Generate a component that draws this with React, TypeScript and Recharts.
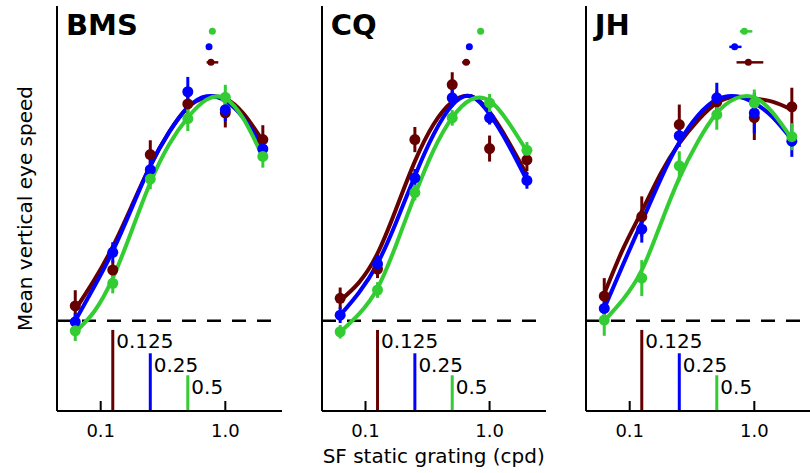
import React from 'react';
import { ComposedChart, Line, Scatter, XAxis, YAxis, ErrorBar, ReferenceLine } from 'recharts';

// ---------- shared axes / categories ----------
const SF_POINTS = [0.0625, 0.125, 0.25, 0.5, 1, 2];
const SF_CURVE = [0.0625, 0.0884, 0.125, 0.177, 0.25, 0.354, 0.5, 0.707, 1, 1.414, 2];
const X_TICKS = [0.1, 1];
const X_TICK_LABELS = ['0.1', '1.0'];
const X_DOMAIN = [0.0446, 2.85];
const Y_DOMAIN = [-0.402, 1.402];
const CONDITION_LABELS = ['0.125', '0.25', '0.5'];
const CONDITION_SF = [0.125, 0.25, 0.5];
const CONDITION_TOP = [-0.041, -0.145, -0.243];
const PEAK_ROW = [1.151, 1.22, 1.289];
const COLORS = ['#660000', '#0000ff', '#33cc33'];

// ---------- BMS ----------
const BMS_MAROON = [0.066, 0.226, 0.74, 0.966, 0.926, 0.807];
const BMS_MAROON_ERR = [0.07, 0.04, 0.064, 0.05, 0.065, 0.064];
const BMS_BLUE = [-0.005, 0.305, 0.673, 1.02, 0.94, 0.765];
const BMS_BLUE_ERR = [0.04, 0.045, 0.05, 0.066, 0.05, 0.05];
const BMS_GREEN = [-0.045, 0.167, 0.631, 0.9, 0.995, 0.732];
const BMS_GREEN_ERR = [0.045, 0.045, 0.045, 0.055, 0.056, 0.05];
const BMS_MAROON_FIT = [0.05, 0.18, 0.33, 0.51, 0.69, 0.84, 0.95, 0.995, 0.99, 0.92, 0.8];
const BMS_BLUE_FIT = [0.0, 0.15, 0.31, 0.5, 0.69, 0.84, 0.95, 1.0, 0.98, 0.9, 0.77];
const BMS_GREEN_FIT = [-0.05, 0.04, 0.19, 0.4, 0.615, 0.785, 0.905, 0.985, 0.99, 0.895, 0.73];
const BMS_PEAK = [0.767, 0.74, 0.787];
const BMS_PEAK_ERR = [[0.059, 0.111], [0.035, 0.035], [0.04, 0.04]];

// ---------- CQ ----------
const CQ_MAROON = [0.1, 0.23, 0.807, 1.052, 0.767, 0.717];
const CQ_MAROON_ERR = [0.048, 0.04, 0.056, 0.055, 0.058, 0.05];
const CQ_BLUE = [0.025, 0.253, 0.636, 0.993, 0.904, 0.625];
const CQ_BLUE_ERR = [0.035, 0.04, 0.04, 0.04, 0.03, 0.037];
const CQ_GREEN = [-0.049, 0.137, 0.571, 0.904, 0.97, 0.759];
const CQ_GREEN_ERR = [0.03, 0.035, 0.035, 0.035, 0.04, 0.037];
const CQ_MAROON_FIT = [0.09, 0.17, 0.3, 0.5, 0.71, 0.875, 0.975, 1.0, 0.93, 0.8, 0.65];
const CQ_BLUE_FIT = [0.025, 0.125, 0.255, 0.44, 0.645, 0.83, 0.96, 1.0, 0.92, 0.785, 0.625];
const CQ_GREEN_FIT = [-0.05, 0.03, 0.145, 0.34, 0.56, 0.76, 0.905, 0.985, 0.98, 0.885, 0.755];
const CQ_PEAK = [0.648, 0.687, 0.847];
const CQ_PEAK_ERR = [[0.047, 0.049], [0.015, 0.015], [0.015, 0.015]];

// ---------- JH ----------
const JH_MAROON = [0.11, 0.464, 0.874, 0.975, 0.905, 0.953];
const JH_MAROON_ERR = [0.08, 0.09, 0.089, 0.05, 0.1, 0.085];
const JH_BLUE = [0.055, 0.408, 0.824, 0.993, 0.925, 0.8];
const JH_BLUE_ERR = [0.04, 0.06, 0.05, 0.067, 0.09, 0.07];
const JH_GREEN = [0.003, 0.19, 0.69, 0.918, 0.97, 0.82];
const JH_GREEN_ERR = [0.07, 0.08, 0.065, 0.067, 0.06, 0.06];
const JH_MAROON_FIT = [0.12, 0.32, 0.487, 0.655, 0.79, 0.894, 0.97, 0.998, 0.99, 0.975, 0.94];
const JH_BLUE_FIT = [0.055, 0.25, 0.44, 0.63, 0.795, 0.915, 0.985, 1.0, 0.97, 0.905, 0.807];
const JH_GREEN_FIT = [0.0, 0.095, 0.225, 0.43, 0.635, 0.8, 0.925, 0.99, 0.995, 0.925, 0.81];
const JH_PEAK = [0.895, 0.695, 0.832];
const JH_PEAK_ERR = [[0.175, 0.285], [0.065, 0.095], [0.066, 0.132]];

const FONT = 'DejaVu Sans, Liberation Sans, sans-serif';

type Series = { color: string; pts: number[]; err: number[]; fit: number[]; peak: number; peakErr: number[]; row: number };

const mkSeries = (
  vals: number[][],
  errs: number[][],
  fits: number[][],
  peaks: number[],
  peakErrs: number[][]
): Series[] =>
  COLORS.map((color, i) => ({ color, pts: vals[i], err: errs[i], fit: fits[i], peak: peaks[i], peakErr: peakErrs[i], row: PEAK_ROW[i] }));

const PANELS = [
  {
    title: 'BMS',
    axisX: 57,
    plotW: 225,
    series: mkSeries(
      [BMS_MAROON, BMS_BLUE, BMS_GREEN],
      [BMS_MAROON_ERR, BMS_BLUE_ERR, BMS_GREEN_ERR],
      [BMS_MAROON_FIT, BMS_BLUE_FIT, BMS_GREEN_FIT],
      BMS_PEAK,
      BMS_PEAK_ERR
    ),
  },
  {
    title: 'CQ',
    axisX: 321.7,
    plotW: 224,
    series: mkSeries(
      [CQ_MAROON, CQ_BLUE, CQ_GREEN],
      [CQ_MAROON_ERR, CQ_BLUE_ERR, CQ_GREEN_ERR],
      [CQ_MAROON_FIT, CQ_BLUE_FIT, CQ_GREEN_FIT],
      CQ_PEAK,
      CQ_PEAK_ERR
    ),
  },
  {
    title: 'JH',
    axisX: 585.7,
    plotW: 225,
    series: mkSeries(
      [JH_MAROON, JH_BLUE, JH_GREEN],
      [JH_MAROON_ERR, JH_BLUE_ERR, JH_GREEN_ERR],
      [JH_MAROON_FIT, JH_BLUE_FIT, JH_GREEN_FIT],
      JH_PEAK,
      JH_PEAK_ERR
    ),
  },
];

const LEFT_PAD = 20;
const CHART_H = 473;

function Panel({ axisX, plotW, series }: { axisX: number; plotW: number; series: Series[] }) {
  const width = LEFT_PAD + plotW + 10;
  return (
    <div style={{ position: 'absolute', left: axisX - LEFT_PAD, top: 0 }}>
      <ComposedChart width={width} height={CHART_H} margin={{ top: 6, right: 10, bottom: 0, left: LEFT_PAD - 1 }}>
        <XAxis
          dataKey="x"
          type="number"
          scale="log"
          domain={X_DOMAIN}
          allowDataOverflow
          ticks={X_TICKS}
          tickFormatter={(v: number) => X_TICK_LABELS[X_TICKS.indexOf(v)] ?? String(v)}
          height={62}
          axisLine={{ stroke: '#000', strokeWidth: 2 }}
          tickLine={{ stroke: '#000', strokeWidth: 2 }}
          tickSize={-10}
          tickMargin={23}
          tick={{ fill: '#000', fontSize: 18, fontFamily: FONT }}
          interval={0}
        />
        <YAxis
          dataKey="y"
          type="number"
          domain={Y_DOMAIN}
          allowDataOverflow
          width={1}
          tick={false}
          tickLine={false}
          axisLine={{ stroke: '#000', strokeWidth: 2 }}
        />
        <ReferenceLine y={0} stroke="#000" strokeWidth={2.5} strokeDasharray="14 11" />
        {CONDITION_SF.map((sf, i) => (
          <ReferenceLine
            key={'c' + i}
            segment={[
              { x: sf, y: Y_DOMAIN[0] },
              { x: sf, y: CONDITION_TOP[i] },
            ]}
            stroke={COLORS[i]}
            strokeWidth={3}
            label={(p: any) => (
              <text
                x={p.viewBox.x + 3.5}
                y={p.viewBox.y + 18.3}
                fontSize={20}
                fontFamily={FONT}
                fill="#000"
              >
                {CONDITION_LABELS[i]}
              </text>
            )}
          />
        ))}
        {series.map((s, i) => (
          <Scatter
            key={'pk' + i}
            data={[{ x: s.peak, y: s.row, ex: s.peakErr }]}
            dataKey="y"
            fill={s.color}
            isAnimationActive={false}
            shape={(p: any) => <circle cx={p.cx} cy={p.cy} r={3.5} fill={s.color} />}
          >
            <ErrorBar dataKey="ex" direction="x" width={0} stroke={s.color} strokeWidth={2.5} />
          </Scatter>
        ))}
        {series.flatMap((s, i) => [
          <Scatter
            key={'pt' + i}
            data={SF_POINTS.map((x, j) => ({ x, y: s.pts[j], e: s.err[j] }))}
            dataKey="y"
            fill={s.color}
            isAnimationActive={false}
            shape={(p: any) => <circle cx={p.cx} cy={p.cy} r={5.5} fill={s.color} />}
          >
            <ErrorBar dataKey="e" direction="y" width={0} stroke={s.color} strokeWidth={3} />
          </Scatter>,
          <Line
            key={'fit' + i}
            data={SF_CURVE.map((x, j) => ({ x, y: s.fit[j] }))}
            dataKey="y"
            type="natural"
            stroke={s.color}
            strokeWidth={4}
            dot={false}
            activeDot={false}
            isAnimationActive={false}
          />,
        ])}
      </ComposedChart>
    </div>
  );
}

export default function App() {
  return (
    <div style={{ position: 'absolute', left: 0, top: 0, width: 810, height: 473, overflow: 'hidden', background: '#fff' }}>
      {PANELS.map((p) => (
        <Panel key={p.title} axisX={p.axisX} plotW={p.plotW} series={p.series} />
      ))}
      <svg width={810} height={473} style={{ position: 'absolute', left: 0, top: 0, pointerEvents: 'none' }}>
        {PANELS.map((p) => (
          <text key={p.title} x={p.axisX + 9} y={35} fontSize={29} fontWeight="bold" fontFamily={FONT} fill="#000">
            {p.title}
          </text>
        ))}
        <text x={433.7} y={462.7} fontSize={20} fontFamily={FONT} textAnchor="middle" fill="#000">
          SF static grating (cpd)
        </text>
        <text
          transform="translate(32,208.5) rotate(-90)"
          fontSize={20}
          fontFamily={FONT}
          textAnchor="middle"
          fill="#000"
        >
          Mean vertical eye speed
        </text>
      </svg>
    </div>
  );
}
